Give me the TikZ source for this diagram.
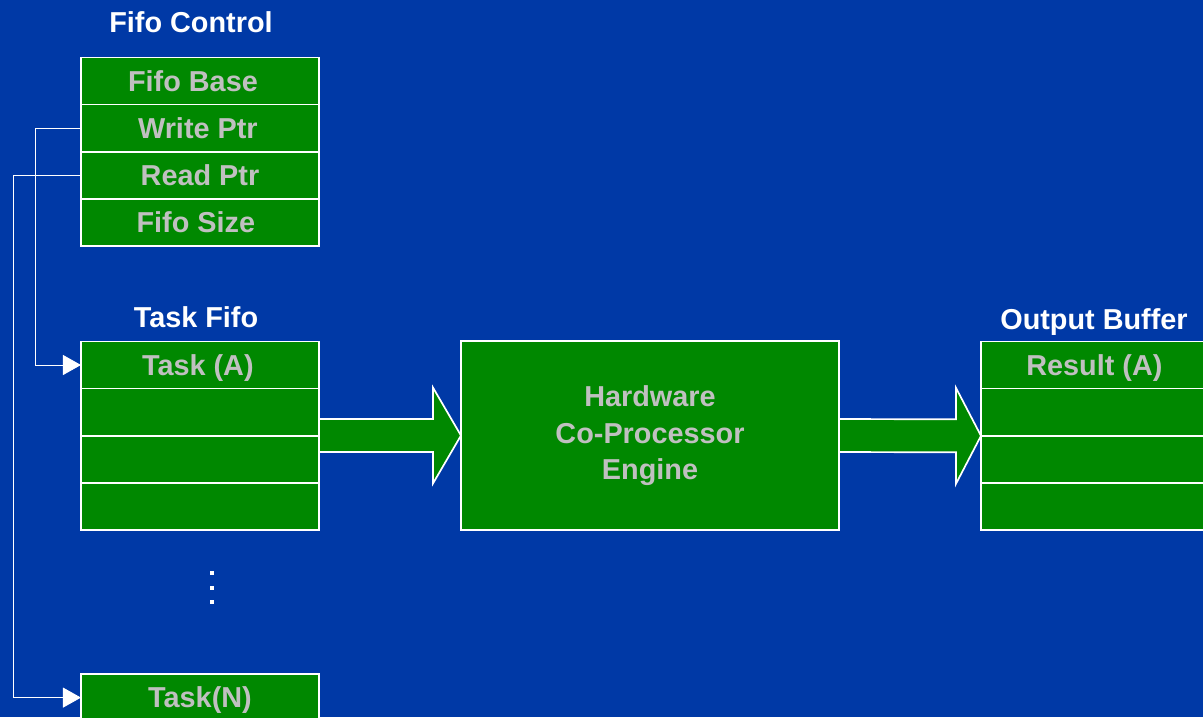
\documentclass[tikz,border=0pt]{standalone}
\usepackage{fontspec}
\setmainfont{Liberation Sans}
\usetikzlibrary{calc, positioning, arrows.meta, backgrounds}
\definecolor{fifoblue}{RGB}{0,57,166}
\definecolor{fifogreen}{RGB}{0,136,0}
\definecolor{fifogrey}{RGB}{192,192,192}
\tikzset{
    cellbox/.style={draw=white, line width=1.2pt, fill=fifogreen, minimum width=5.95cm, minimum height=1.18cm, inner sep=0pt, outer sep=0pt, text=fifogrey, text height=14.6pt, text depth=0pt, font=\fontsize{20.5}{24}\selectfont\bfseries},
    enginebox/.style={draw=white, line width=1.2pt, fill=fifogreen, minimum width=9.45cm, minimum height=4.72cm, inner sep=0pt, outer sep=0pt, text=fifogrey, align=center, font=\fontsize{20.5}{26}\selectfont\bfseries},
    titletext/.style={text=white, inner sep=0pt, anchor=base, font=\fontsize{20.5}{24}\selectfont\bfseries},
    ptrline/.style={-{Triangle[length=0.45cm, width=0.5cm]}, draw=white, line width=0.6pt},
    blockarrow/.style={draw=white, line width=1.2pt, fill=fifogreen, line join=miter}
}
\begin{document}
\begin{tikzpicture}[x=0.025cm,y=-0.025cm]
            \useasboundingbox (0,0) rectangle (1203,717);
            % fifo control registers
            \node[titletext] (fctitle) at (191,32) {Fifo Control};
            \node[cellbox] (fc1) at (200,81) {\hspace*{-10pt}Fifo Base};
            \node[cellbox, below=0pt of fc1] (fc2) {\hspace*{-3pt}Write Ptr};
            \node[cellbox, below=0pt of fc2] (fc3) {Read Ptr};
            \node[cellbox, below=0pt of fc3] (fc4) {\hspace*{-6pt}Fifo Size};
            % task fifo
            \node[titletext] (tftitle) at (196,327) {Task Fifo};
            \node[cellbox] (t1) at (200,365) {\hspace*{-3pt}Task (A)};
            \node[cellbox, below=0pt of t1] (t2) {};
            \node[cellbox, below=0pt of t2] (t3) {};
            \node[cellbox, below=0pt of t3] (t4) {};
            \foreach \y in {573,588,602}
                \fill[white] (210,\y-2) rectangle ++(4,4);
            \node[cellbox] (tn) at (200,697.6) {Task(N)};
            % engine
            \node[enginebox, text depth=4pt] (hw) at (650,435.5) {Hardware\\Co-Processor\\Engine};
            % output buffer
            \node[titletext] (obtitle) at (1094,329) {Output Buffer};
            \node[cellbox] (ob1) at (1100,365) {\hspace*{-8pt}Result (A)};
            \node[cellbox, below=0pt of ob1] (ob2) {};
            \node[cellbox, below=0pt of ob2] (ob3) {};
            \node[cellbox, below=0pt of ob3] (ob4) {};
            % pointers
            \draw[ptrline] (fc2.west) -- ++(-46,0) |- (t1.west);
            \draw[ptrline] (fc3.west) -- ++(-68,0) |- (tn.west);
            \begin{pgfonlayer}{background}
                \fill[fifoblue] (0,0) rectangle (1203,717);
                \draw[blockarrow] ($(t1.east |- hw.west)+(0,-16.5)$) -- ($(hw.west)+(-28,-16.5)$) -- ($(hw.west)+(-28,-48)$) -- (hw.west) -- ($(hw.west)+(-28,48)$) -- ($(hw.west)+(-28,16.5)$) -- ($(t1.east |- hw.west)+(0,16.5)$);
                \draw[blockarrow] ($(hw.east)+(0,-16.5)$) -- ($(ob2.south west)+(-25,-16.5)$) -- ($(ob2.south west)+(-25,-48)$) -- (ob2.south west) -- ($(ob2.south west)+(-25,48)$) -- ($(ob2.south west)+(-25,16.5)$) -- ($(hw.east)+(0,16.5)$);
            \end{pgfonlayer}
        \end{tikzpicture}
\end{document}
